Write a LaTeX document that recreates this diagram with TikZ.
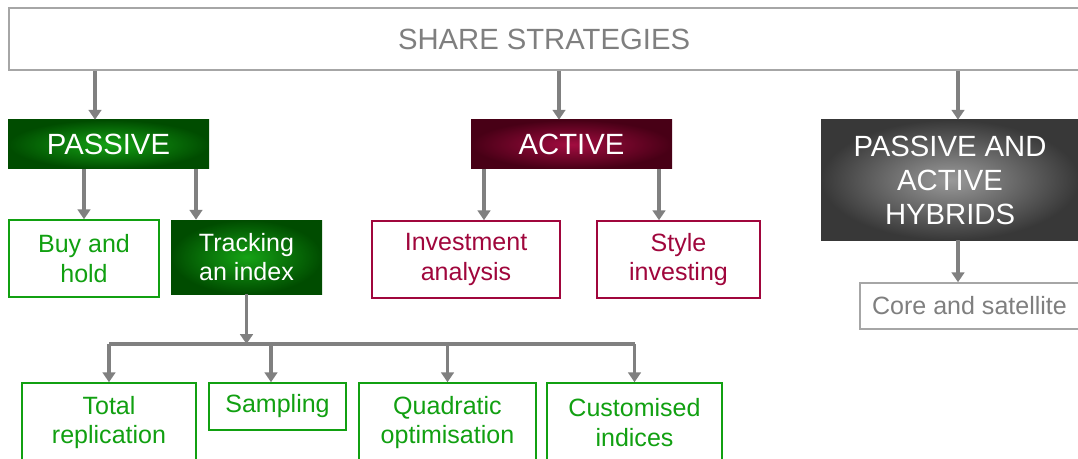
\documentclass[tikz,border=0pt]{standalone}
\usepackage{fontspec}
\setmainfont{Liberation Sans}
\usepackage{tikz}
\usetikzlibrary{arrows.meta}

\definecolor{linegray}{HTML}{808080}
\definecolor{framegray}{HTML}{A6A6A6}
\definecolor{textgray}{HTML}{7F7F7F}
\definecolor{leafgreen}{HTML}{11A011}
\definecolor{glowgreen}{HTML}{15A215}
\definecolor{deepgreen}{HTML}{004C00}
\definecolor{wine}{HTML}{A0063C}
\definecolor{glowwine}{HTML}{A20C40}
\definecolor{deepwine}{HTML}{480016}
\definecolor{glowgray}{HTML}{9A9A9A}
\definecolor{deepgray}{HTML}{383838}

\newcommand\pxu{0.025cm}

\tikzset{
  size/.style 2 args={minimum width=#1*\pxu,minimum height=#2*\pxu,inner sep=0pt},
  bigfont/.style={font=\fontsize{20.8}{24.2}\selectfont},
  smallfont/.style={font=\fontsize{17.8}{20.9}\selectfont},
  topbox/.style={draw=framegray,line width=1.4pt,text=textgray,bigfont},
  greenhead/.style={inner color=glowgreen,outer color=deepgreen,text=white,bigfont},
  winehead/.style={inner color=glowwine,outer color=deepwine,text=white,bigfont},
  grayhead/.style={inner color=glowgray,outer color=deepgray,text=white,bigfont,align=center},
  greenleaf/.style={draw=leafgreen,line width=1.1pt,fill=white,text=leafgreen,smallfont,align=center},
  greenfill/.style={inner color=glowgreen,outer color=deepgreen,text=white,smallfont,align=center},
  wineleaf/.style={draw=wine,line width=1.1pt,fill=white,text=wine,smallfont,align=center},
  grayleaf/.style={draw=framegray,line width=1.1pt,fill=white,text=textgray,smallfont},
  arr/.style={draw=linegray,line width=2.3pt,-{Triangle[length=7pt,width=9pt]}},
  bus/.style={draw=linegray,line width=2.3pt}
}

\begin{document}
\begin{tikzpicture}[x=0.025cm,y=-0.025cm]
\useasboundingbox (0,0) rectangle (1078,459);

% top level
\node[topbox,size={1070}{62}] (share) at (544,39) {SHARE STRATEGIES};

% second level
\node[greenhead,size={201}{49}] (passive) at (108.5,144.5) {PASSIVE};
\node[winehead,size={201}{49}] (active) at (571.5,144.5) {ACTIVE};
\node[grayhead,size={258}{120}] (hybrid) at (950,180) {PASSIVE AND\\ACTIVE\\HYBRIDS};

% third level
\node[greenleaf,size={150}{77}] (buyhold) at (84,258.5) {Buy and\\hold};
\node[greenfill,size={151}{74}] (tracking) at (246.5,257) {Tracking\\an index};
\node[wineleaf,size={188}{77}] (analysis) at (466,259.5) {Investment\\analysis};
\node[wineleaf,size={163}{77}] (styleinv) at (678.5,259.5) {Style\\investing};
\node[grayleaf,size={219}{46}] (core) at (969.5,306) {Core and satellite};

% fourth level
\node[greenleaf,size={174}{79}] (total) at (109,422.5) {Total\\replication};
\node[greenleaf,size={137}{47}] (sampling) at (277.5,406.5) {Sampling};
\node[greenleaf,size={177}{79}] (quadratic) at (447.5,422.5) {Quadratic\\optimisation};
\node[greenleaf,size={175}{79}] (custom) at (634.5,422.5) {Customised\\indices};

% connectors
\coordinate (topa) at (95,0);
\coordinate (topb) at (559,0);
\coordinate (topc) at (958,0);
\draw[arr] (topa |- share.south) -- (topa |- passive.north);
\draw[arr] (topb |- share.south) -- (topb |- active.north);
\draw[arr] (topc |- share.south) -- (topc |- hybrid.north);

\coordinate (passb) at (196,0);
\draw[arr] (buyhold.north |- passive.south) -- (buyhold.north);
\draw[arr] (passb |- passive.south) -- (passb |- tracking.north);

\coordinate (acta) at (484,0);
\coordinate (actb) at (659,0);
\draw[arr] (acta |- active.south) -- (acta |- analysis.north);
\draw[arr] (actb |- active.south) -- (actb |- styleinv.north);

\draw[arr] (topc |- hybrid.south) -- (topc |- core.north);

\coordinate (split) at (246.5,344);
\coordinate (samp) at (271,0);
\draw[arr] (tracking.south) -- (split);
\draw[bus] (split -| total.north) -- (split -| custom.north);
\draw[arr] (split -| total.north) -- (total.north);
\draw[arr] (split -| samp) -- (samp |- sampling.north);
\draw[arr] (split -| quadratic.north) -- (quadratic.north);
\draw[arr] (split -| custom.north) -- (custom.north);
\end{tikzpicture}
\end{document}
